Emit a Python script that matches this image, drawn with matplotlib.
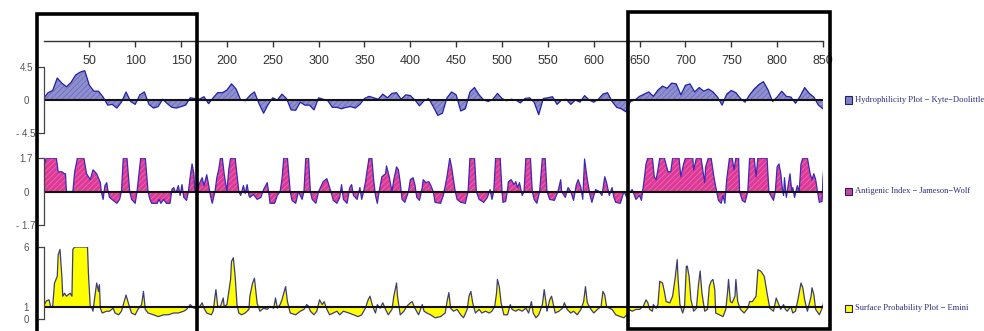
import matplotlib
matplotlib.use('Agg')
import matplotlib.pyplot as plt
from matplotlib.patches import Rectangle

# Hydrophilicity (Kyte-Doolittle), read every 5 residues
hydro_pos = list(range(0, 851, 5))
hydro_val = [0.2, 1.0, 1.3, 3.0, 2.3, 1.8, 2.4, 3.4, 3.8, 4.0,
             2.0, 1.2, 1.2, 0.4, -0.7, -0.6, -1.1, -0.3, 1.1, -0.2,
             -0.6, 0.7, 1.1, -0.6, -1.1, -0.9, 0.1, -0.5, -1.0, -1.1,
             -0.9, -0.7, 0.3, 0.2, 0.1, 0.45, -0.5, 0.3, 1.0, 1.0,
             1.35, 2.2, 1.5, 0.0, -0.1, 0.6, 1.1, -0.5, -1.8, -0.6,
             0.3, 0.0, 0.8, 0.2, -1.35, -1.4, -0.3, -0.7, -0.7, -1.35,
             0.3, 0.1, -0.1, -1.0, -1.0, -1.2, -1.0, -0.9, -1.1, -0.6,
             0.2, 0.5, 0.3, 0.1, 0.8, 0.3, 0.9, 1.0, 0.1, 0.7,
             0.6, 0.0, -0.8, -0.1, 0.2, -0.9, -2.1, -1.8, 0.3, 1.1,
             0.7, -1.5, -1.2, 1.1, 1.7, 0.7, 0.0, -0.2, 0.1, 0.9,
             0.2, -0.1, 0.1, 0.0, -0.4, 0.2, 0.3, -0.3, -2.0, 0.2,
             0.3, 0.45, -0.6, 0.0, 0.1, -0.6, 0.0, -0.3, 0.6, 0.0,
             -0.3, 0.1, 0.8, 1.0, -0.2, -1.0, -1.2, -1.6, -0.2, 0.0,
             0.5, 0.8, 1.1, 0.5, 1.35, 1.9, 1.6, 2.3, 2.2, 0.7,
             2.0, 2.2, 1.1, 1.7, 1.2, 1.5, 1.1, 0.4, -0.7, 0.8,
             1.3, 1.0, 0.2, -0.3, 0.7, 1.5, 2.1, 2.5, 1.4, -0.2,
             0.4, 1.2, 0.5, 0.4, -0.45, 0.5, 1.7, 0.9, 0.4, -0.7,
             -1.2]

# Antigenic index (Jameson-Wolf)
ag_pos = [0, 1, 3, 14, 16, 20, 23, 24, 25, 32, 34, 37, 44, 47, 51, 54, 58, 62, 63, 65,
          67, 69, 70, 72, 76, 80, 83, 85, 87, 91, 94, 96, 100, 102, 106, 111, 114, 116, 118, 124,
          126, 128, 131, 134, 138, 140, 142, 144, 145, 147, 149, 151, 153, 156, 158, 160, 162, 164, 165, 167,
          169, 171, 173, 175, 178, 180, 182, 184, 186, 187, 189, 191, 193, 195, 197, 200, 202, 204, 209, 213,
          215, 218, 220, 222, 224, 225, 229, 233, 237, 240, 244, 246, 247, 252, 255, 258, 260, 262, 266, 269,
          271, 275, 278, 282, 284, 286, 289, 291, 293, 297, 300, 302, 305, 309, 312, 314, 316, 320, 323, 325,
          327, 331, 334, 336, 338, 342, 345, 347, 349, 351, 353, 355, 358, 360, 362, 364, 366, 369, 373, 374,
          377, 380, 382, 385, 387, 389, 391, 394, 398, 400, 403, 405, 407, 410, 413, 414, 417, 420, 422, 425,
          427, 433, 436, 440, 443, 445, 447, 449, 451, 455, 460, 463, 465, 470, 472, 475, 480, 484, 487, 489,
          491, 493, 498, 500, 501, 504, 506, 507, 510, 513, 515, 517, 519, 522, 524, 526, 531, 533, 535, 538,
          541, 544, 547, 549, 552, 557, 561, 564, 565, 569, 572, 575, 578, 581, 583, 586, 588, 590, 593, 596,
          598, 602, 606, 609, 612, 614, 617, 620, 622, 624, 629, 633, 636, 638, 642, 646, 650, 652, 655, 657,
          659, 664, 666, 668, 670, 672, 677, 681, 684, 686, 693, 695, 698, 700, 708, 709, 712, 717, 720, 721,
          722, 725, 728, 731, 734, 736, 739, 741, 743, 745, 748, 751, 753, 755, 758, 759, 762, 765, 768, 770,
          775, 777, 779, 789, 791, 793, 796, 798, 800, 802, 804, 806, 807, 808, 810, 812, 814, 816, 817, 819,
          822, 824, 826, 828, 833, 836, 838, 840, 842, 844, 846, 849, 850, 852]
ag_val = [1.2, 1.4, 1.7, 1.7, 1.0, 1.0, 0.9, 0.9, 0.0, 0.0, 1.0, 1.7, 1.7, 0.9, 0.6, 1.1, 0.9, 0.45, 0.0, -0.4,
          0.3, 0.45, 0.1, -0.3, -0.45, -0.6, -0.4, 0.0, 1.7, 1.7, 0.0, -0.4, -0.6, 0.0, 1.7, 1.7, 0.0, -0.4, -0.6, -0.6,
          -0.4, -0.6, -0.4, -0.6, -0.6, 0.1, 0.2, -0.05, 0.0, 0.3, -0.2, 0.35, -0.3, -0.45, 0.0, 0.75, 1.4, 0.9, 0.0, -0.1,
          0.3, 0.5, 0.7, 0.3, 0.85, 0.35, -0.2, -0.6, -0.2, 0.0, 0.7, 1.1, 1.7, 1.7, 0.9, 0.0, 1.1, 1.7, 1.7, 0.0,
          -0.2, 0.3, -0.1, 0.35, -0.2, -0.3, -0.15, -0.4, -0.3, 0.1, 0.45, -0.2, -0.6, -0.6, -0.2, 0.0, 0.6, 1.7, 1.7, 0.0,
          -0.45, -0.6, 0.0, -0.4, 0.0, 1.7, 1.7, 0.0, -0.4, -0.6, 0.0, 0.2, 0.5, 0.65, 0.2, -0.1, -0.45, -0.6, -0.3, 0.35,
          -0.4, -0.6, 0.2, 0.35, -0.2, -0.4, 0.2, -0.4, 0.0, 0.45, 1.1, 1.7, 1.7, 0.6, -0.2, -0.6, 0.0, 0.75, 0.9, 1.3,
          0.75, 0.0, 0.6, 1.25, 1.1, 0.45, -0.4, -0.55, 0.0, 0.6, 0.7, 0.35, -0.3, -0.45, 0.2, 0.6, 0.45, 0.5, 0.35, 0.0,
          -0.55, -0.6, -0.2, 0.75, 1.7, 1.25, 0.6, 0.0, -0.4, -0.55, -0.6, 0.0, 1.7, 1.7, 0.0, -0.4, -0.55, -0.3, 0.1, -0.4,
          0.0, 1.7, 1.7, 0.0, -0.55, -0.5, 0.1, 0.5, 0.6, 0.35, 0.5, 0.2, 0.45, -0.2, 0.0, 1.7, 1.7, 0.0, -0.4, -0.6,
          0.0, 1.7, 1.7, 0.0, -0.4, -0.45, 0.0, 0.6, 0.0, -0.3, 0.2, 0.0, -0.45, 0.35, 0.6, 0.2, -0.4, 1.65, 0.6, -0.2,
          -0.55, 0.1, 0.0, -0.2, 0.75, 0.45, -0.2, 0.2, -0.3, -0.55, -0.6, 0.0, -0.3, -0.1, 0.1, -0.4, -0.2, -0.45, 0.6, 1.4,
          1.7, 1.7, 0.75, 0.6, 1.1, 1.7, 1.7, 1.0, 1.0, 1.7, 1.7, 0.75, 1.4, 1.7, 1.7, 1.1, 1.7, 1.7, 0.75, 0.45,
          1.25, 1.7, 1.7, 0.75, 0.0, -0.45, -0.6, -0.2, -0.6, 0.6, 1.7, 1.7, 1.1, 1.7, 1.7, 0.0, -0.45, -0.55, 0.0, 1.7,
          1.7, 0.75, 1.7, 1.7, 0.0, -0.2, -0.45, 0.0, 1.25, 1.4, 0.9, 0.0, -0.2, 0.7, -0.3, 0.3, 0.9, 0.0, 0.2, -0.3,
          0.3, 0.0, 1.4, 1.7, 1.7, 0.9, 0.6, 0.9, 0.6, 0.0, -0.55, -0.5, 0.75, 1.7]

# Surface probability (Emini)
sp_pos = [0, 1, 3, 6, 8, 10, 12, 15, 16, 18, 20, 21, 23, 25, 29, 31, 32, 34, 48, 49,
          51, 53, 54, 56, 58, 60, 61, 62, 64, 69, 72, 76, 78, 82, 85, 88, 90, 93, 96, 100,
          103, 107, 109, 111, 114, 120, 125, 131, 136, 142, 147, 153, 156, 160, 164, 169, 173, 175, 178, 183,
          185, 188, 190, 193, 196, 197, 200, 204, 205, 207, 209, 211, 213, 216, 220, 224, 225, 228, 230, 233,
          236, 240, 244, 247, 251, 253, 255, 258, 260, 263, 264, 266, 269, 275, 280, 284, 287, 289, 291, 295,
          298, 301, 304, 306, 309, 312, 316, 320, 323, 327, 333, 338, 343, 347, 351, 354, 356, 359, 362, 364,
          367, 370, 373, 376, 380, 382, 385, 386, 389, 393, 396, 400, 402, 405, 409, 413, 415, 418, 422, 427,
          433, 438, 440, 442, 444, 447, 451, 455, 458, 462, 464, 466, 468, 471, 475, 478, 482, 486, 489, 492,
          494, 495, 497, 499, 502, 506, 509, 511, 515, 518, 522, 526, 529, 532, 534, 537, 540, 544, 546, 548,
          549, 552, 554, 556, 558, 562, 566, 568, 571, 575, 578, 582, 586, 589, 591, 593, 597, 600, 604, 608,
          610, 612, 614, 617, 620, 624, 629, 633, 636, 638, 642, 646, 650, 654, 657, 659, 661, 664, 665, 668,
          670, 672, 675, 677, 679, 683, 686, 689, 691, 692, 694, 697, 699, 701, 702, 704, 706, 709, 712, 714,
          716, 718, 721, 724, 726, 728, 730, 732, 733, 737, 741, 744, 746, 747, 749, 751, 754, 755, 757, 760,
          764, 768, 770, 773, 777, 779, 782, 786, 789, 792, 796, 799, 801, 804, 807, 809, 811, 815, 817, 820,
          823, 826, 828, 830, 833, 837, 838, 840, 842, 846, 849, 851]
sp_val = [1.1, 1.2, 1.5, 1.6, 1.0, 1.05, 3.0, 3.55, 5.35, 5.8, 3.55, 1.9, 2.15, 1.9, 2.15, 1.9, 5.8, 6.0, 6.0, 3.8,
          1.0, 0.9, 0.65, 1.9, 3.0, 2.3, 2.85, 0.9, 0.5, 0.65, 0.65, 0.9, 0.5, 0.35, 0.65, 1.45, 2.0, 1.2, 0.5, 0.35,
          0.8, 1.2, 2.3, 0.8, 0.5, 0.35, 0.2, 0.35, 0.35, 0.5, 0.5, 0.65, 0.8, 1.2, 0.9, 0.9, 1.35, 0.9, 0.5, 0.35,
          0.65, 2.45, 1.05, 1.05, 1.75, 1.05, 1.2, 3.3, 4.8, 5.1, 3.55, 1.2, 0.5, 0.35, 0.5, 0.8, 1.9, 3.0, 3.4, 1.3,
          0.65, 0.9, 0.8, 1.05, 0.9, 1.75, 0.9, 1.2, 1.6, 2.45, 2.7, 1.45, 0.5, 0.35, 0.65, 0.8, 1.2, 1.05, 0.65, 0.35,
          0.65, 1.6, 1.2, 1.45, 0.8, 0.35, 0.5, 0.65, 0.35, 0.65, 0.5, 0.35, 0.2, 0.35, 0.9, 1.6, 1.9, 1.05, 0.5, 1.2,
          0.9, 1.35, 0.8, 0.35, 0.8, 1.9, 3.0, 1.9, 0.35, 0.65, 1.05, 1.35, 1.45, 0.9, 0.35, 1.2, 0.65, 0.5, 0.35, 0.1,
          0.2, 0.5, 1.45, 2.2, 0.9, 0.65, 0.8, 0.35, 0.1, 0.8, 1.9, 2.3, 1.35, 0.5, 0.8, 0.5, 0.65, 0.5, 0.65, 1.05,
          2.15, 3.3, 2.7, 1.35, 0.35, 0.35, 1.2, 0.8, 0.65, 0.8, 0.65, 0.9, 0.5, 1.45, 0.5, 0.1, 0.35, 1.2, 2.45, 1.35,
          0.65, 1.6, 1.9, 1.2, 0.5, 0.65, 0.9, 1.35, 0.8, 0.5, 0.65, 0.35, 0.8, 1.45, 2.7, 1.35, 0.8, 0.5, 0.8, 1.05,
          2.3, 2.0, 1.05, 0.9, 0.8, 0.35, 0.2, 0.1, 0.35, 0.8, 0.65, 0.8, 0.8, 1.05, 1.6, 1.35, 0.8, 0.65, 1.2, 0.9,
          1.2, 3.15, 3.0, 2.3, 1.45, 1.35, 1.9, 3.55, 4.95, 3.3, 1.2, 0.5, 1.05, 4.4, 4.4, 3.55, 1.6, 0.65, 0.9, 2.7,
          4.0, 2.15, 0.65, 0.8, 2.7, 3.15, 3.3, 2.45, 0.5, 0.35, 0.2, 0.8, 2.3, 3.3, 1.45, 1.35, 1.9, 3.3, 1.45, 0.8,
          0.5, 0.9, 1.45, 1.45, 1.9, 4.1, 4.0, 3.55, 2.15, 0.9, 0.65, 1.75, 1.35, 0.8, 1.2, 0.8, 0.65, 1.05, 0.5, 0.65,
          1.75, 3.0, 2.6, 1.6, 0.65, 1.9, 2.6, 2.05, 0.8, 0.35, 0.9, 1.45]

scale_ticks = [50, 100, 150, 200, 250, 300, 350, 400, 450, 500,
               550, 600, 650, 700, 750, 800, 850]
legend_labels = ['Hydrophilicity Plot \u2212 Kyte\u2212Doolittle',
                 'Antigenic Index \u2212 Jameson\u2212Wolf',
                 'Surface Probability Plot \u2212 Emini']

plt.rcParams['font.family'] = ['Liberation Sans', 'DejaVu Sans']
plt.rcParams['hatch.linewidth'] = 0.5

W, H = 984, 331
fig = plt.figure(figsize=(W / 100, H / 100), dpi=100)

x0, x1 = 43.5, 823.0


def px_axes(top, bottom):
    return fig.add_axes([x0 / W, (H - bottom) / H, (x1 - x0) / W, (bottom - top) / H])


def style_track(ax, lo, mid, hi, labels):
    ax.set_xlim(0, 850)
    ax.set_ylim(lo, hi)
    ax.patch.set_alpha(0)
    for s in ['top', 'right', 'bottom']:
        ax.spines[s].set_visible(False)
    ax.spines['left'].set_color('#444444')
    ax.spines['left'].set_linewidth(0.9)
    ax.set_xticks([])
    ax.set_yticks([lo, mid, hi])
    ax.set_yticklabels(labels, fontsize=7, color='#555555')
    ax.tick_params(axis='y', length=4, width=0.9, color='#444444', pad=8.5)
    for lab in ax.get_yticklabels():
        lab.set_ha('center')
    ax.yaxis.get_major_ticks()[1].tick1line.set_visible(False)


# top residue scale
ax_top = px_axes(40, 41)
ax_top.set_xlim(0, 850)
ax_top.set_yticks([])
for s in ['top', 'right', 'left']:
    ax_top.spines[s].set_visible(False)
ax_top.spines['bottom'].set_color('#333333')
ax_top.spines['bottom'].set_linewidth(1.0)
ax_top.set_xticks(scale_ticks)
ax_top.tick_params(axis='x', length=4, width=1.0, color='#333333', labelsize=9,
                   labelcolor='#333333', pad=6)

# hydrophilicity
ax_h = px_axes(67, 133)
ax_h.fill_between(hydro_pos, hydro_val, 0, facecolor='#8e8ed2', edgecolor='#6a6aa8',
                  hatch='//////', linewidth=0)
ax_h.plot(hydro_pos, hydro_val, color='#2020a8', lw=0.9)
ax_h.axhline(0, color='#111111', lw=1.5)
style_track(ax_h, -4.5, 0, 4.5, ['- 4.5', '0', '4.5'])

# antigenic index
ax_a = px_axes(158, 225)
ax_a.fill_between(ag_pos, ag_val, 0, facecolor='#dc3a96', edgecolor='#f070b8',
                  hatch='//////', linewidth=0)
ax_a.plot(ag_pos, ag_val, color='#3a2ab8', lw=0.9)
ax_a.axhline(0, color='#111111', lw=1.5)
style_track(ax_a, -1.7, 0, 1.7, ['- 1.7', '0', '1.7'])

# surface probability
ax_s = px_axes(247, 319)
ax_s.fill_between(sp_pos, sp_val, 1, facecolor='#ffff00', linewidth=0)
ax_s.plot(sp_pos, sp_val, color='#3c3c78', lw=0.9)
ax_s.axhline(1, color='#111111', lw=1.5)
style_track(ax_s, 0, 1, 6, ['0', '1', '6'])

# legend entries
legend_y = [100, 191, 308]
legend_fill = ['#8080c8', '#c8449a', '#ffff20']
for y, c, t in zip(legend_y, legend_fill, legend_labels):
    fig.add_artist(Rectangle((845 / W, (H - y - 3.5) / H), 7 / W, 7 / H,
                             transform=fig.transFigure, facecolor=c,
                             edgecolor='#22226a', lw=0.8))
    fig.text(855 / W, (H - y) / H, t, fontsize=6.1, color='#2a2a80',
             family=['Liberation Serif', 'DejaVu Serif'], va='center', ha='left')

# highlight boxes
fig.add_artist(Rectangle((37 / W, (H - 336) / H), 160 / W, 322 / H,
                         transform=fig.transFigure, fill=False,
                         edgecolor='black', lw=2.6))
fig.add_artist(Rectangle((628 / W, (H - 329) / H), 202 / W, 317 / H,
                         transform=fig.transFigure, fill=False,
                         edgecolor='black', lw=2.6))

fig.savefig('out.png', dpi=100)
